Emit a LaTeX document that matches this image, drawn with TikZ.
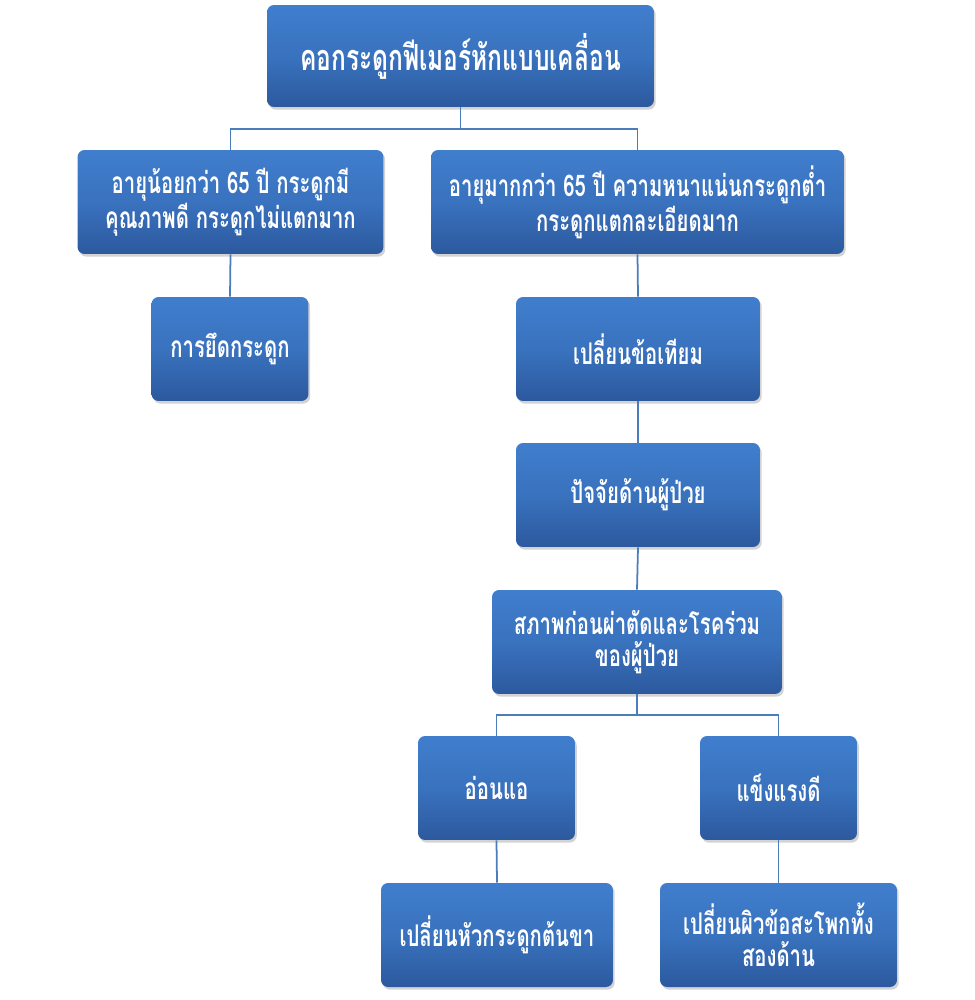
\documentclass[tikz,border=0pt]{standalone}
\usepackage{fontspec}
\newfontfamily\thaifont[Script=Thai,FakeStretch=0.68]{Loma}
\usetikzlibrary{shadows}
\definecolor{boxtop}{RGB}{64,126,205}
\definecolor{boxmid}{RGB}{57,114,190}
\definecolor{boxbot}{RGB}{44,89,158}
\definecolor{linkblue}{RGB}{74,126,187}
\tikzset{
  box/.style={rounded corners=4pt, top color=boxtop, bottom color=boxbot, middle color=boxmid,
    drop shadow={opacity=0.35, shadow xshift=1pt, shadow yshift=-1.5pt},
    text=white, align=center, minimum height=2.08cm, inner xsep=2pt,
    font=\thaifont\bfseries\fontsize{17}{18}\selectfont},
  link/.style={draw=linkblue, line width=1pt}
}
\begin{document}
\begin{tikzpicture}[x=0.02cm,y=-0.02cm]
        \useasboundingbox (0,0) rectangle (974,1000);
        \node[box, minimum width=7.74cm, minimum height=2.04cm, font=\thaifont\bfseries\fontsize{20.5}{22}\selectfont] (root) at (460.5,56) {คอกระดูกฟีเมอร์หักแบบเคลื่อน};
        \node[box, minimum width=6.12cm] (young) at (230.5,202) {อายุน้อยกว่า 65 ปี กระดูกมี\\คุณภาพดี กระดูกไม่แตกมาก};
        \node[box, minimum width=8.26cm] (old) at (637.5,202) {อายุมากกว่า 65 ปี ความหนาแน่นกระดูกต่ำ\\กระดูกแตกละเอียดมาก};
        \node[box, minimum width=3.14cm] (fix) at (230,349) {การยึดกระดูก};
        \node[box, minimum width=4.88cm] (replace) at (638,349) {เปลี่ยนข้อเทียม};
        \node[box, minimum width=4.88cm] (patient) at (638,495) {ปัจจัยด้านผู้ป่วย};
        \node[box, minimum width=5.8cm] (status) at (637,642) {สภาพก่อนผ่าตัดและโรคร่วม\\ของผู้ป่วย};
        \node[box, minimum width=3.14cm] (weak) at (496.5,788) {อ่อนแอ};
        \node[box, minimum width=3.14cm] (strong) at (778.5,788) {แข็งแรงดี};
        \node[box, minimum width=4.64cm] (hemi) at (497,935) {เปลี่ยนหัวกระดูกต้นขา};
        \node[box, minimum width=4.74cm] (total) at (778.5,935) {เปลี่ยนผิวข้อสะโพกทั้ง\\สองด้าน};
        \draw[link] (root.south) -- ++(0,22) -| (young.north);
        \draw[link] (root.south) -- ++(0,22) -| (old.north);
        \draw[link] (young.south) -- (fix.north);
        \draw[link] (old.south) -- (replace.north);
        \draw[link] (replace.south) -- (patient.north);
        \draw[link] (patient.south) -- (status.north);
        \draw[link] (status.south) -- ++(0,21) -| (weak.north);
        \draw[link] (status.south) -- ++(0,21) -| (strong.north);
        \draw[link] (weak.south) -- (hemi.north);
        \draw[link] (strong.south) -- (total.north);
    \end{tikzpicture}
\end{document}
